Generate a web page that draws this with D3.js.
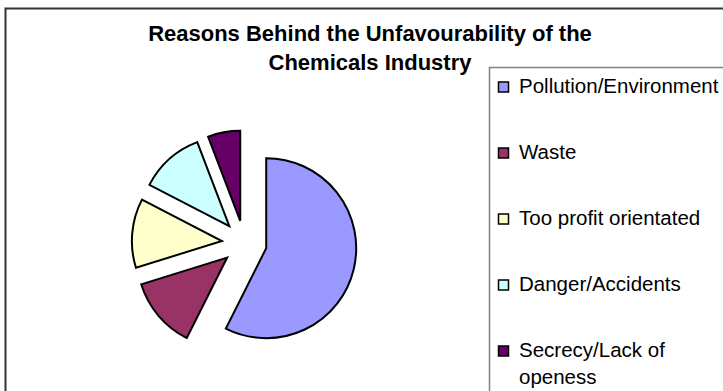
<!DOCTYPE html>
<html>
<head>
<meta charset="utf-8">
<script src="https://cdn.jsdelivr.net/npm/d3@7"></script>
<style>
  html, body { margin: 0; padding: 0; background: #fff; }
  svg { display: block; }
  text { font-family: "Liberation Sans", Arial, sans-serif; fill: #000; }
</style>
</head>
<body>
<svg id="chart" width="723" height="391"></svg>
<script>
// ---- data ----
const titleLines = ["Reasons Behind the Unfavourability of the", "Chemicals Industry"];
const categories = ["Pollution/Environment", "Waste", "Too profit orientated", "Danger/Accidents", "Secrecy/Lack of openess"];
const values = [57.4, 12.8, 12.4, 11.6, 5.8];
const colors = ["#9999FF", "#993366", "#FFFFCC", "#CCFFFF", "#660066"];

const svg = d3.select("#chart");
const W = 723, H = 391;

// outer chart frame (extends past right/bottom edge)
svg.append("rect")
  .attr("x", 5.5).attr("y", 8.5)
  .attr("width", 800).attr("height", 500)
  .attr("fill", "#fff").attr("stroke", "#333").attr("stroke-width", 2);

// title
svg.append("g").selectAll("text")
  .data(titleLines)
  .join("text")
  .attr("x", 370)
  .attr("y", (d, i) => 41 + i * 29)
  .attr("text-anchor", "middle")
  .attr("font-weight", "bold")
  .attr("font-size", "22px")
  .text(d => d);

// pie
const cx = 244.3, cy = 243, r = 90, explode = 22.5;
const pie = d3.pie().sort(null).startAngle(0).endAngle(2 * Math.PI)(values);
const arc = d3.arc().innerRadius(0).outerRadius(r);
const color = d3.scaleOrdinal().domain(categories).range(colors);

svg.append("g")
  .attr("transform", `translate(${cx},${cy})`)
  .selectAll("path")
  .data(pie)
  .join("path")
  .attr("transform", d => {
    const m = (d.startAngle + d.endAngle) / 2;
    return `translate(${Math.sin(m) * explode},${-Math.cos(m) * explode})`;
  })
  .attr("d", arc)
  .attr("fill", (d, i) => color(categories[i]))
  .attr("stroke", "#000")
  .attr("stroke-width", 2)
  .attr("stroke-linejoin", "miter");

// legend
const lg = svg.append("g");
lg.append("rect")
  .attr("x", 489.5).attr("y", 67.5)
  .attr("width", 300).attr("height", 400)
  .attr("fill", "#fff").attr("stroke", "#808080").attr("stroke-width", 1.5);

const items = lg.selectAll("g.item")
  .data(categories)
  .join("g")
  .attr("class", "item")
  .attr("transform", (d, i) => `translate(0,${93 + i * 66})`);

items.append("rect")
  .attr("x", 498.5).attr("y", -11)
  .attr("width", 10).attr("height", 10)
  .attr("fill", d => color(d))
  .attr("stroke", "#000").attr("stroke-width", 1.5);

const maxW = 205;
items.append("text")
  .attr("x", 519)
  .attr("y", 0)
  .attr("font-size", "20.5px")
  .each(function(d) {
    const t = d3.select(this);
    const words = d.split(" ");
    let line = [], lineNo = 0;
    let tspan = t.append("tspan").attr("x", 519).attr("dy", 0);
    words.forEach(w => {
      line.push(w);
      tspan.text(line.join(" "));
      if (tspan.node().getComputedTextLength() > maxW && line.length > 1) {
        line.pop();
        tspan.text(line.join(" "));
        line = [w];
        lineNo++;
        tspan = t.append("tspan").attr("x", 519).attr("dy", 27).text(w);
      }
    });
  });
</script>
</body>
</html>
